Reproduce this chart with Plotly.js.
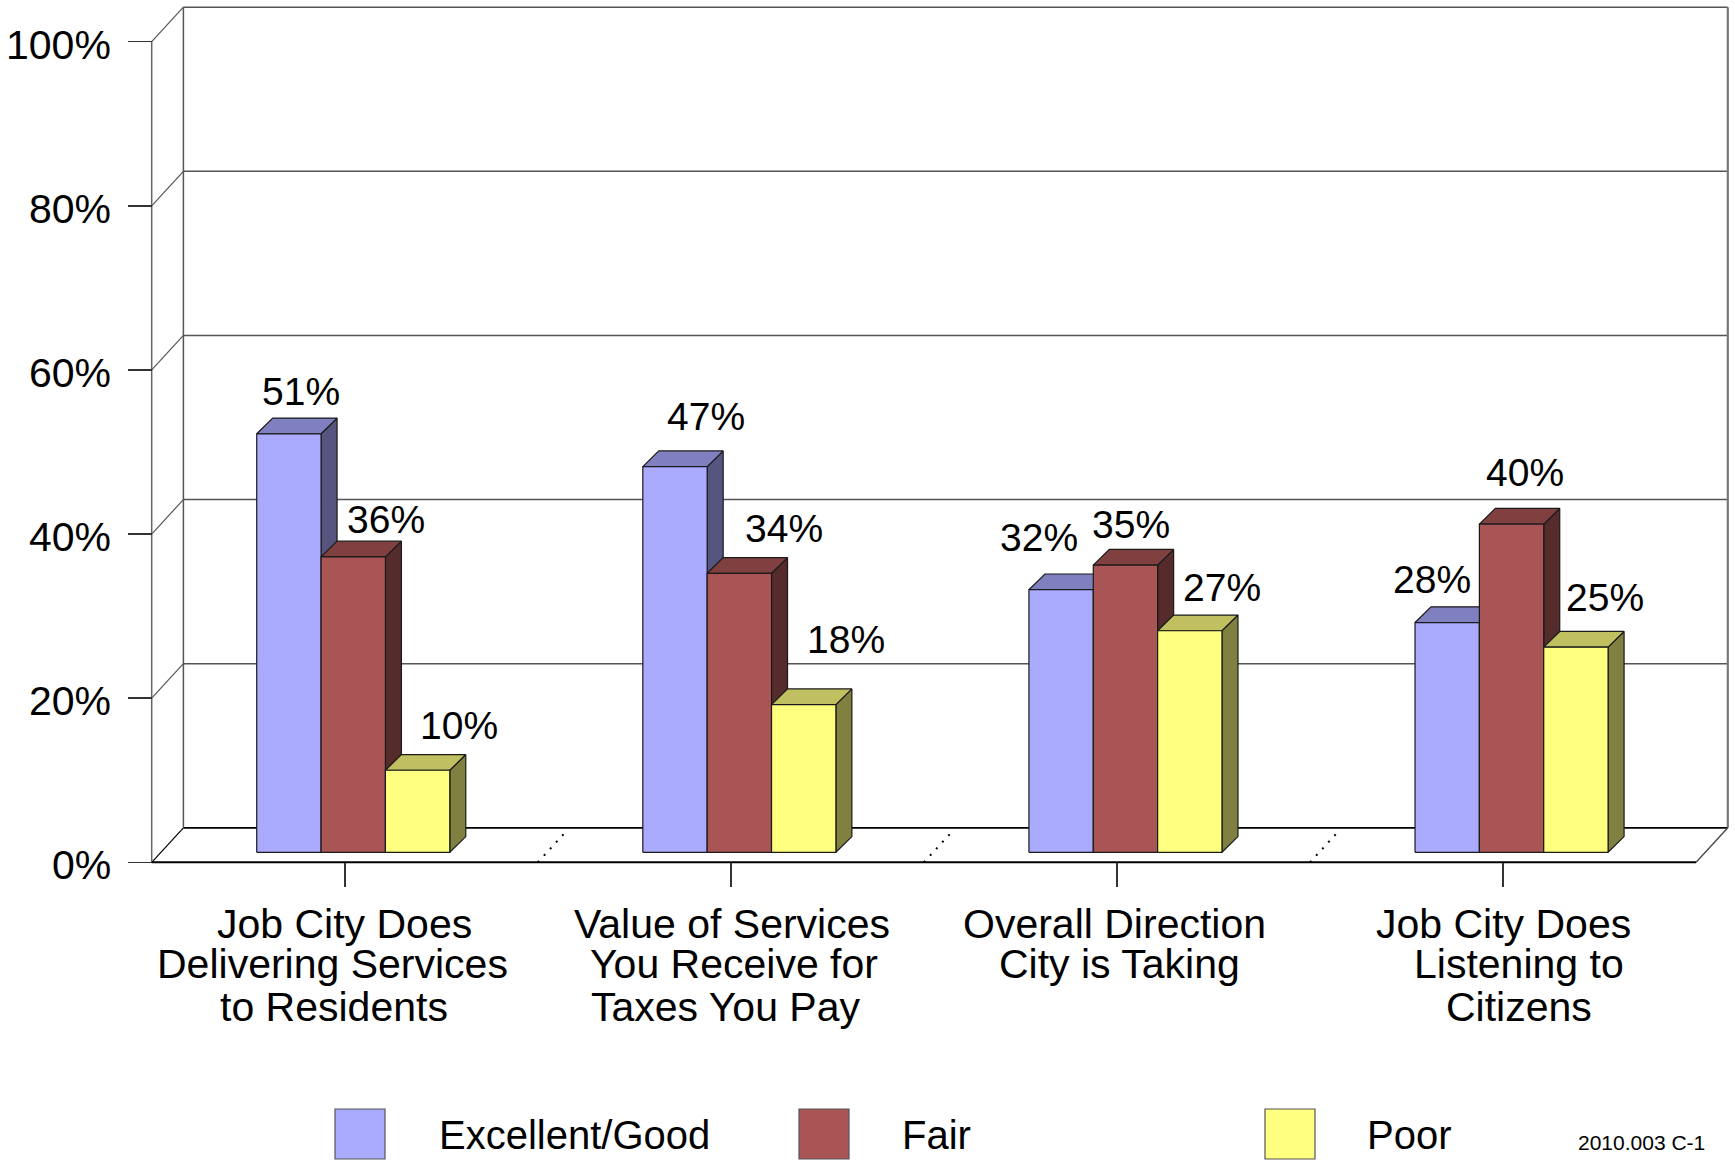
<!DOCTYPE html>
<html>
<head>
<meta charset="utf-8">
<script src="https://cdn.plot.ly/plotly-3.0.1.min.js"></script>
<style>
  html, body { margin: 0; padding: 0; background: #ffffff; }
  #chart { width: 1735px; height: 1161px; }
</style>
</head>
<body>
<div id="chart"></div>
<script>
// ---------------- DATA ----------------
const categories = [
  "Job City Does Delivering Services to Residents",
  "Value of Services You Receive for Taxes You Pay",
  "Overall Direction City is Taking",
  "Job City Does Listening to Citizens"
];
const categoryLines = [
  ["Job City Does", "Delivering Services", "to Residents"],
  ["Value of Services", "You Receive for", "Taxes You Pay"],
  ["Overall Direction", "City is Taking"],
  ["Job City Does", "Listening to", "Citizens"]
];
const seriesNames = ["Excellent/Good", "Fair", "Poor"];
const excellentGood = [51, 47, 32, 28];
const fair = [36, 34, 35, 40];
const poor = [10, 18, 27, 25];
const yTickValues = [0, 20, 40, 60, 80, 100];
const yTickLabels = ["0%", "20%", "40%", "60%", "80%", "100%"];
const footnote = "2010.003 C-1";

// ---------------- STYLE / LAYOUT CONSTANTS ----------------
const FONT = "Liberation Sans, Arial, Helvetica, sans-serif";
const FS_DATA = 39, FS_CAT = 41, FS_TICK = 41, FS_LEG = 40, FS_NOTE = 21;
const seriesStyle = [
  { front: "#AAAAFF", top: "#8080C0", side: "#555580" },
  { front: "#AA5555", top: "#804040", side: "#552B2B" },
  { front: "#FFFF80", top: "#C0C060", side: "#808040" }
];
// label nudges (pixels) relative to the top-front centre of each bar
const labelNudgeX = [[12, 31, -22, -15], [33, 45, 6, 13], [41, 42, 32, 29]];
const labelNudgeY = [[-29, -37, -39, -30], [-24, -32, -28, -39], [-32, -52, -30, -37]];
const catLineNudge = [[0, -12, -11], [1, 3, -5], [-2, 3], [0, 16, 16]];
const catLineY = [924, 964, 1007];

const W = 1735, H = 1161;
const M = { l: 100, r: 0, t: 0, b: 260 };
const plotW = W - M.l - M.r, plotH = H - M.t - M.b;
const X0PX = 151.7;   // front-left corner pixel
const UX = 386.1;     // px per category
const Y0PX = 862.3;   // 0% on the front plane
const UY = 8.206;     // px per percent
const xmin = -0.5 - (X0PX - M.l) / UX, xmax = xmin + plotW / UX;
const ymin = -(M.t + plotH - Y0PX) / UY, ymax = ymin + plotH / UY;
const px2x = d => d / UX, px2y = d => d / UY;
const paperX = px => (px - M.l) / plotW;
const paperY = py => (M.t + plotH - py) / plotH;

const WALL = { dx: px2x(31.7), dy: px2y(34.5) };
const BAR = { z0x: px2x(8.5), z0y: px2y(10), dx: px2x(16), dy: px2y(15.7) };
const nCat = categories.length;
const seriesValues = [excellentGood, fair, poor];
const barW = 0.5 / seriesValues.length;

// ---------------- WALLS (shapes) ----------------
const shapes = [];
function seg(x0, y0, x1, y1, color, width, dash) {
  shapes.push({ type: "line", xref: "x", yref: "y", x0, y0, x1, y1, layer: "below",
    line: { color, width, dash: dash || "solid" } });
}
const xL = -0.5, xR = nCat - 0.5;
const yTop = yTickValues[yTickValues.length - 1];
yTickValues.forEach(v => {
  const c = v === 0 ? "#000000" : "#555555";
  seg(xL + WALL.dx, v + WALL.dy, xR + WALL.dx, v + WALL.dy, c, v === 0 ? 1.8 : 1.5);
  seg(xL, v, xL + WALL.dx, v + WALL.dy, v === 0 ? "#000000" : "#555555", 1.2);
});
seg(xL, 0, xL, yTop, "#666666", 1.5);
seg(xL + WALL.dx, WALL.dy, xL + WALL.dx, yTop + WALL.dy, "#555555", 1.5);
seg(xR + WALL.dx, WALL.dy, xR + WALL.dx, yTop + WALL.dy, "#777777", 2.2);
seg(xL, 0, xR, 0, "#000000", 2);
seg(xR, 0, xR + WALL.dx, WALL.dy, "#444444", 1.3);
for (let k = 0; k < nCat - 1; k++) {
  seg(k + 0.5, 0, k + 0.5 + 0.9 * WALL.dx, 0.9 * WALL.dy, "#000000", 2, "2px,7px");
}

// ---------------- BARS (3D faces as filled polygons) ----------------
const traces = [];
const annotations = [];
seriesValues.forEach((vals, s) => {
  const side = { x: [], y: [] }, top = { x: [], y: [] }, front = { x: [], y: [] };
  vals.forEach((v, i) => {
    const l = i - 0.25 + s * barW + BAR.z0x, r = l + barW;
    const b = BAR.z0y, t = b + v;
    side.x.push(r, r + BAR.dx, r + BAR.dx, r, r, null);
    side.y.push(b, b + BAR.dy, t + BAR.dy, t, b, null);
    top.x.push(l, l + BAR.dx, r + BAR.dx, r, l, null);
    top.y.push(t, t + BAR.dy, t + BAR.dy, t, t, null);
    front.x.push(l, r, r, l, l, null);
    front.y.push(b, b, t, t, b, null);
    annotations.push({
      xref: "x", yref: "y", x: (l + r) / 2, y: t, text: v + "%", showarrow: false,
      xanchor: "center", yanchor: "middle",
      xshift: labelNudgeX[s][i], yshift: 13 - labelNudgeY[s][i],
      font: { family: FONT, size: FS_DATA, color: "#000000" }
    });
  });
  const st = seriesStyle[s];
  [[side, st.side], [top, st.top], [front, st.front]].forEach(([p, col]) => {
    traces.push({
      type: "scatter", mode: "lines", x: p.x, y: p.y, fill: "toself",
      fillcolor: col, line: { color: "#1a1a1a", width: 1.2 },
      name: seriesNames[s], showlegend: false, hoverinfo: "skip", connectgaps: false
    });
  });
});

// ---------------- Y TICK LABELS ----------------
yTickValues.forEach((v, k) => {
  annotations.push({
    xref: "paper", yref: "y", x: paperX(113), y: v, text: yTickLabels[k], showarrow: false,
    xanchor: "right", yanchor: "middle", yshift: -3,
    font: { family: FONT, size: FS_TICK, color: "#000000" }
  });
});

// ---------------- CATEGORY LABELS ----------------
categoryLines.forEach((lines, i) => {
  lines.forEach((txt, j) => {
    annotations.push({
      xref: "x", yref: "paper", x: i, y: paperY(catLineY[j]), text: txt, showarrow: false,
      xanchor: "center", yanchor: "middle", xshift: catLineNudge[i][j],
      font: { family: FONT, size: FS_CAT, color: "#000000" }
    });
  });
});

// ---------------- LEGEND ----------------
const legendBoxX = [335, 799, 1265], legendTextX = [437, 900, 1365];
const legendTop = 1109, legendSize = 50, legendMid = 1135;
seriesNames.forEach((nm, s) => {
  shapes.push({ type: "rect", xref: "paper", yref: "paper",
    x0: paperX(legendBoxX[s]), x1: paperX(legendBoxX[s] + legendSize),
    y0: paperY(legendTop), y1: paperY(legendTop + legendSize),
    fillcolor: seriesStyle[s].front, line: { color: "#555555", width: 1.2 } });
  annotations.push({ xref: "paper", yref: "paper", x: paperX(legendTextX[s]), y: paperY(legendMid),
    text: nm, showarrow: false, xanchor: "left", yanchor: "middle",
    font: { family: FONT, size: FS_LEG, color: "#000000" } });
});
annotations.push({ xref: "paper", yref: "paper", x: paperX(1707), y: paperY(1142),
  text: footnote, showarrow: false, xanchor: "right", yanchor: "middle",
  font: { family: FONT, size: FS_NOTE, color: "#000000" } });

// ---------------- LAYOUT ----------------
const layout = {
  width: W, height: H, margin: M,
  paper_bgcolor: "#ffffff", plot_bgcolor: "rgba(0,0,0,0)",
  showlegend: false,
  font: { family: FONT, size: FS_DATA, color: "#000000" },
  xaxis: {
    type: "linear", range: [xmin, xmax], anchor: "free", position: paperY(Y0PX),
    tickmode: "array", tickvals: categories.map((c, i) => i), ticktext: categories.map(() => ""),
    showticklabels: false, ticks: "outside", ticklen: 24, tickwidth: 1.5, tickcolor: "#333333",
    showgrid: false, zeroline: false, showline: false, fixedrange: true
  },
  yaxis: {
    type: "linear", range: [ymin, ymax], anchor: "free", position: paperX(X0PX),
    tickmode: "array", tickvals: yTickValues, ticktext: yTickValues.map(() => ""),
    showticklabels: false, ticks: "outside", ticklen: 24, tickwidth: 1.5, tickcolor: "#333333",
    showgrid: false, zeroline: false, showline: false, fixedrange: true
  },
  shapes: shapes,
  annotations: annotations
};

Plotly.newPlot("chart", traces, layout, { staticPlot: true, displayModeBar: false });
</script>
</body>
</html>
